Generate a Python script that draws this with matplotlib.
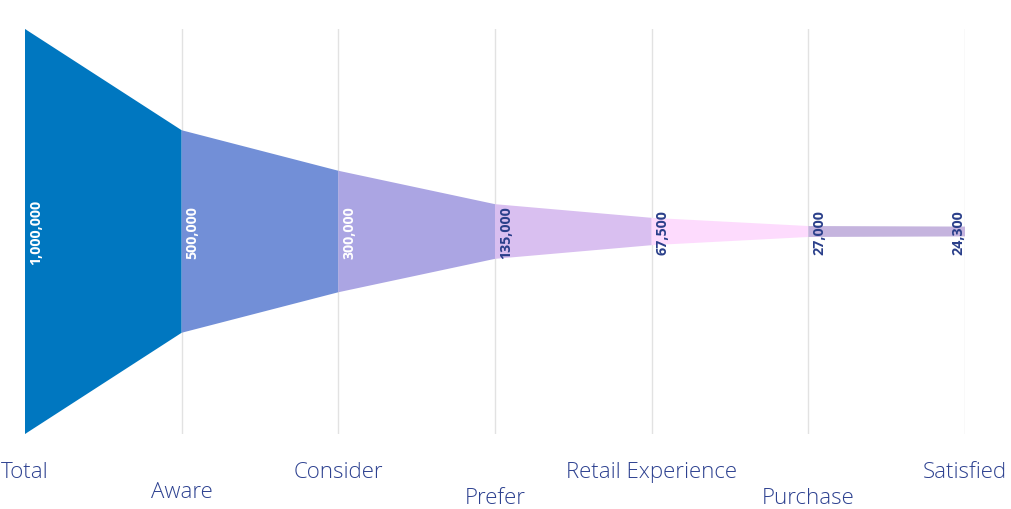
import numpy as np
import matplotlib.pyplot as plt

stages = ['Total', 'Aware', 'Consider', 'Prefer', 'Retail Experience', 'Purchase', 'Satisfied']
values = [1000000, 500000, 300000, 135000, 67500, 27000, 24300]
band_colors = ['#0077c0', '#728fd7', '#aba5e3', '#d9bff0', '#fddbfd', '#c5b4de']
value_colors = ['white', 'white', 'white', '#2a3f8a', '#2a3f8a', '#2a3f8a', '#2a3f8a']

plt.rcParams['font.family'] = ['Open Sans', 'DejaVu Sans']

fig = plt.figure(figsize=(10.12, 5.10), dpi=100)
# plot area: x from px 25 to 965, y from px 30 to 435
ax = fig.add_axes([25 / 1012, 75 / 510, 940 / 1012, 405 / 510])
xs = np.arange(len(stages))
vals = np.array(values, dtype=float)

# gridlines
for x in xs:
    ax.axvline(x, color='#e2e2e2', lw=1, zorder=0)

# funnel bands
for i in range(len(stages) - 1):
    px = [xs[i], xs[i + 1], xs[i + 1], xs[i]]
    py = [vals[i] / 2, vals[i + 1] / 2, -vals[i + 1] / 2, -vals[i] / 2]
    ax.fill(px, py, color=band_colors[i], lw=0, zorder=1)

# value labels
for i, (x, v) in enumerate(zip(xs, values)):
    dx = 0.07 if i < len(stages) - 1 else -0.045
    ax.text(x + dx, 0, '{:,}'.format(v), rotation=90, ha='center', va='center',
            fontsize=10.3, fontweight='bold', color=value_colors[i], zorder=3)

# staggered stage labels (pixel offsets below the plot bottom)
label_offsets = [38, 58, 38, 64, 38, 64, 38]
for x, name, off in zip(xs, stages, label_offsets):
    ax.annotate(name, xy=(x, -vals[0] / 2), xycoords='data',
                xytext=(0, -off * 0.72), textcoords='offset points',
                ha='center', va='center', fontsize=16, color='#2d4190',
                fontweight='light', annotation_clip=False)

ax.set_xlim(0, len(stages) - 1)
ax.set_ylim(-vals[0] / 2, vals[0] / 2)
ax.axis('off')

fig.savefig('out.png', dpi=100)
